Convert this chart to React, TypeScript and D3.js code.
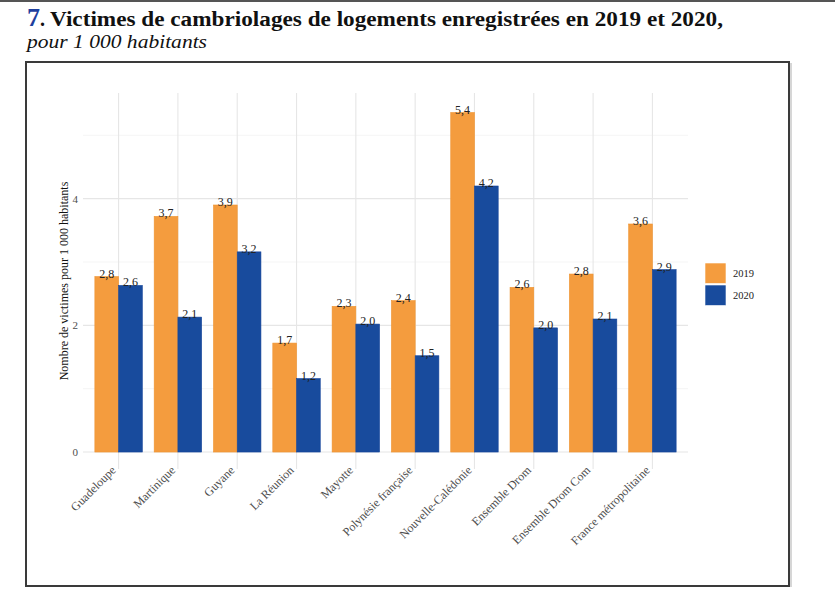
import React from 'react';
import * as d3 from 'd3';

const categories = [
  'Guadeloupe',
  'Martinique',
  'Guyane',
  'La Réunion',
  'Mayotte',
  'Polynésie française',
  'Nouvelle-Calédonie',
  'Ensemble Drom',
  'Ensemble Drom Com',
  'France métropolitaine',
];
const values2019 = [2.77, 3.72, 3.9, 1.72, 2.3, 2.39, 5.36, 2.6, 2.81, 3.6];
const values2020 = [2.63, 2.13, 3.16, 1.16, 2.02, 1.52, 4.2, 1.96, 2.1, 2.88];
const seriesNames = ['2019', '2020'];
const majorTicks = [0, 2, 4];
const minorTicks = [1, 3, 5];

const W = 835;
const H = 598;
const ORANGE = '#F49C3E';
const BLUE = '#184B9D';
const SERIF = '"Liberation Serif", "DejaVu Serif", serif';

const panel = { left: 83, right: 688, top: 93, bottom: 469 };

const fmt = (v: number) => v.toFixed(1).replace('.', ',');

const App: React.FC = () => {
  const x = d3
    .scaleBand<string>()
    .domain(categories)
    .range([panel.left, panel.right])
    .paddingInner(0)
    .paddingOuter(0.1);

  const yMax = d3.max(values2019.concat(values2020)) as number;
  const pad = yMax * 0.05;
  const y = d3
    .scaleLinear()
    .domain([-pad, yMax + pad * 1.15])
    .range([panel.bottom, panel.top]);

  const inner = d3
    .scaleBand<string>()
    .domain(seriesNames)
    .range([0, x.step() * 0.8]);

  const series = [
    { name: '2019', values: values2019, color: ORANGE },
    { name: '2020', values: values2020, color: BLUE },
  ];

  const centre = (c: string) => (x(c) as number) + x.bandwidth() / 2;

  return (
    <svg
      width={W}
      height={H}
      style={{ position: 'absolute', left: 0, top: 0, background: '#fff' }}
      fontFamily={SERIF}
    >
      <rect x={0} y={0} width={W} height={H} fill="#fff" />
      <rect x={0} y={0} width={W} height={2} fill="#555" />

      {/* title */}
      <text x={27} y={26} fontSize={26} fontWeight="bold" fill="#1F3F9E">
        7<tspan fill="#111" fontSize={20}>.</tspan>
      </text>
      <text
        x={50}
        y={26}
        fontSize={20}
        fontWeight="bold"
        fill="#111"
        textLength={673}
        lengthAdjust="spacingAndGlyphs"
      >
        Victimes de cambriolages de logements enregistrées en 2019 et 2020,
      </text>
      <text
        x={27}
        y={48}
        fontSize={19}
        fontStyle="italic"
        fill="#111"
        textLength={180}
        lengthAdjust="spacingAndGlyphs"
      >
        pour 1 000 habitants
      </text>

      {/* frame */}
      <rect x={26} y={62} width={763} height={524} fill="none" stroke="#3a3a3a" strokeWidth={2} />
      <line x1={791} y1={63} x2={791} y2={587} stroke="#c8c8c8" strokeWidth={1.5} />

      {/* grid */}
      <g>
        {minorTicks.map((t) => (
          <line key={'mi' + t} x1={panel.left} x2={panel.right} y1={y(t)} y2={y(t)} stroke="#f2f2f2" strokeWidth={0.8} />
        ))}
        {majorTicks.map((t) => (
          <line key={'ma' + t} x1={panel.left} x2={panel.right} y1={y(t)} y2={y(t)} stroke="#e6e6e6" strokeWidth={1.1} />
        ))}
        {categories.map((c) => (
          <line key={'v' + c} x1={centre(c)} x2={centre(c)} y1={panel.top} y2={panel.bottom} stroke="#e6e6e6" strokeWidth={1.1} />
        ))}
      </g>

      {/* bars */}
      {series.map((s) => (
        <g key={s.name}>
          {categories.map((c, i) => {
            const bx = (x(c) as number) + x.step() * 0.1 + (inner(s.name) as number);
            const v = s.values[i];
            return (
              <g key={c}>
                <rect
                  x={bx}
                  y={y(v)}
                  width={inner.bandwidth()}
                  height={y(0) - y(v)}
                  fill={s.color}
                  stroke={s.color === ORANGE ? '#EE9330' : '#15449A'}
                  strokeWidth={0.6}
                />
                <text
                  x={bx + inner.bandwidth() / 2}
                  y={y(v) + 1}
                  textAnchor="middle"
                  fontSize={12}
                  fill="#222"
                >
                  {fmt(v)}
                </text>
              </g>
            );
          })}
        </g>
      ))}

      {/* y axis */}
      {majorTicks.map((t) => (
        <text key={'yl' + t} x={78} y={y(t)} dy="0.35em" textAnchor="end" fontSize={11} fill="#4d4d4d">
          {t}
        </text>
      ))}
      <text
        transform={`translate(68, ${(panel.top + panel.bottom) / 2}) rotate(-90)`}
        textAnchor="middle"
        fontSize={12}
        fill="#111"
      >
        Nombre de victimes pour 1 000 habitants
      </text>

      {/* x axis labels */}
      {categories.map((c) => (
        <text
          key={'xl' + c}
          transform={`translate(${centre(c) - 2}, 471) rotate(-45)`}
          textAnchor="end"
          fontSize={12}
          fill="#4d4d4d"
        >
          {c}
        </text>
      ))}

      {/* legend */}
      {series.map((s, i) => (
        <g key={'lg' + s.name} transform={`translate(705, ${263 + i * 22})`}>
          <rect x={0} y={0} width={21} height={20.5} fill={s.color} stroke="#fff" strokeWidth={0.6} />
          <text x={28} y={10.5} dy="0.35em" fontSize={10.5} fill="#222">
            {s.name}
          </text>
        </g>
      ))}
    </svg>
  );
};

export default App;
